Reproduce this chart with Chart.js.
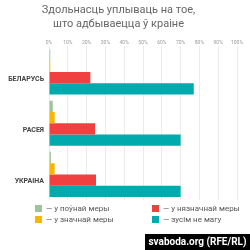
<!DOCTYPE html>
<html>
<head>
<meta charset="utf-8">
<script src="https://cdn.jsdelivr.net/npm/chart.js@4"></script>
<style>
  html, body { margin: 0; padding: 0; background: #fff; }
  #wrap { position: relative; width: 250px; height: 250px; font-family: Roboto, sans-serif; }
  #legend { position: absolute; left: 0; top: 0; }
  .item { position: absolute; font-size: 8px; color: #555; line-height: 10px; white-space: nowrap; }
  .item span { display: inline-block; width: 7px; height: 7px; margin-right: 4px; vertical-align: -1px; }
  #mark {
    position: absolute; left: 145px; top: 234px; width: 105px; height: 16px;
    background: #000; color: #fff; font: bold 10px Roboto, sans-serif;
    line-height: 16px; text-align: center;
  }
</style>
</head>
<body>
<div id="wrap">
  <canvas id="myChart" width="250" height="250"></canvas>
  <div id="legend"></div>
  <div id="mark">svaboda.org (RFE/RL)</div>
</div>
<script>
const countries = ['БЕЛАРУСЬ', 'РАСЕЯ', 'УКРАІНА'];
const fully = [0.7, 2, 1];
const largely = [0.7, 3, 3];
const slightly = [22, 24.5, 25];
const notAtAll = [77, 70, 70];
const seriesNames = ['— у поўнай меры', '— у значнай меры', '— у нязначнай меры', '— зусім не магу'];
const seriesColors = ['#9fc49c', '#f8b600', '#f0403f', '#00aaad'];

const ctx = document.getElementById('myChart');
const values = [fully, largely, slightly, notAtAll];

const chart = new Chart(ctx, {
    type: 'bar',
    data: {
        labels: countries,
        datasets: values.map((v, i) => ({
            label: seriesNames[i],
            data: v,
            backgroundColor: seriesColors[i],
            borderWidth: 0,
            categoryPercentage: 0.88,
            barPercentage: 1
        }))
    },
    options: {
        indexAxis: 'y',
        responsive: false,
        animation: false,
        layout: { padding: { right: 13, bottom: 50 } },
        plugins: {
            title: {
                display: true,
                text: ['Здольнасць уплываць на тое,', 'што адбываецца ў краіне'],
                color: '#666',
                font: { family: 'Roboto', size: 11, weight: 'normal', lineHeight: 1.2 },
                padding: { top: 4, bottom: 6 }
            },
            legend: { display: false },
            tooltip: { enabled: false }
        },
        scales: {
            x: {
                position: 'top',
                min: 0,
                max: 100,
                afterFit: (s) => { s.height = 10; },
                grid: { color: '#ebebeb', drawTicks: false },
                border: { display: false },
                ticks: {
                    stepSize: 10,
                    autoSkip: false,
                    maxRotation: 0,
                    padding: 1,
                    color: '#999',
                    font: { family: 'Roboto', size: 5 },
                    callback: (v) => v + '%'
                }
            },
            y: {
                afterFit: (s) => { s.width = 49; },
                grid: { display: false, drawTicks: false },
                border: { display: false },
                ticks: {
                    padding: 5,
                    labelOffset: 7,
                    color: '#444',
                    font: { family: 'Roboto', size: 7, weight: 'bold' }
                }
            }
        }
    }
});

// two-column legend under the plot, same colours as the datasets
const legendPos = [[35, 204], [35, 215], [152, 204], [152, 215]];
const legendEl = document.getElementById('legend');
chart.data.datasets.forEach((ds, i) => {
    const el = document.createElement('div');
    el.className = 'item';
    el.style.left = legendPos[i][0] + 'px';
    el.style.top = legendPos[i][1] + 'px';
    el.innerHTML = '<span style="background:' + ds.backgroundColor + '"></span>' + ds.label;
    legendEl.appendChild(el);
});
</script>
</body>
</html>
